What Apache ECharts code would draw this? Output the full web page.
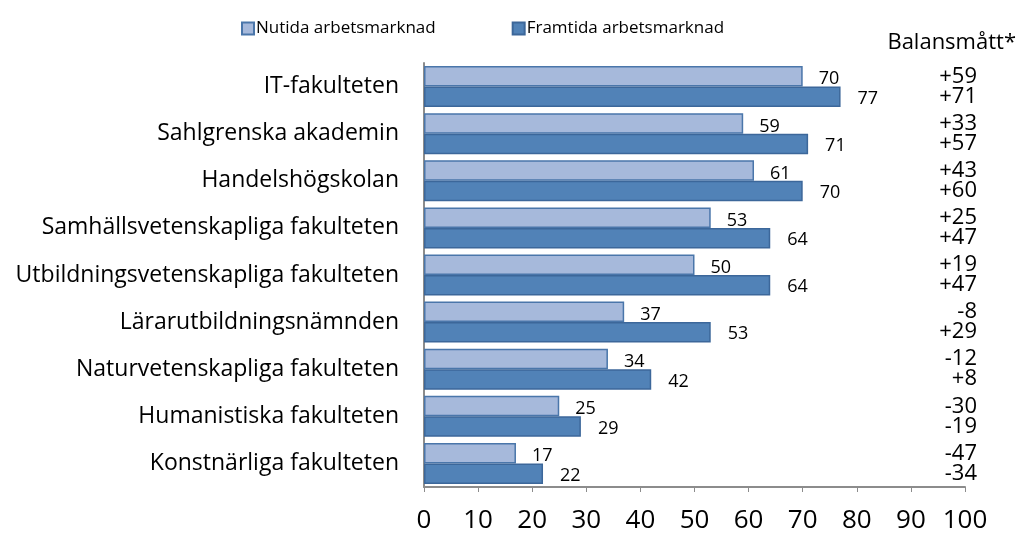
<!DOCTYPE html>
<html style="height: 100%">
<head>
    <meta charset="utf-8">
    <title>Arbetsmarknad per fakultet</title>
    <script src="https://cdn.jsdelivr.net/npm/echarts@6/dist/echarts.min.js"></script>
</head>
<body style="height: 100%; margin: 0; background: #fff">
    <div id="container" style="width: 1023px; height: 534px"></div>
    <script type="text/javascript">
        var fakulteter = ['IT-fakulteten', 'Sahlgrenska akademin', 'Handelshögskolan',
            'Samhällsvetenskapliga fakulteten', 'Utbildningsvetenskapliga fakulteten',
            'Lärarutbildningsnämnden', 'Naturvetenskapliga fakulteten',
            'Humanistiska fakulteten', 'Konstnärliga fakulteten'];
        var nutida = [70, 59, 61, 53, 50, 37, 34, 25, 17];
        var framtida = [77, 71, 70, 64, 64, 53, 42, 29, 22];
        var balansNutida = ['+59', '+33', '+43', '+25', '+19', '-8', '-12', '-30', '-47'];
        var balansFramtida = ['+71', '+57', '+60', '+47', '+47', '+29', '+8', '-19', '-34'];
        var xTicks = [0, 10, 20, 30, 40, 50, 60, 70, 80, 90, 100];

        var font = 'Open Sans';
        var chart = echarts.init(document.getElementById('container'));

        var option = {
            animation: false,
            textStyle: { fontFamily: font, color: '#000' },
            title: {
                text: 'Balansmått*',
                right: 2, top: 27,
                textStyle: { fontFamily: font, fontSize: 22, fontWeight: 'normal', color: '#000' }
            },
            legend: {
                top: 15, left: 236,
                itemWidth: 12, itemHeight: 12, itemGap: 76,
                icon: 'rect',
                textStyle: { fontFamily: font, fontSize: 17, color: '#000', padding: [0, 0, 0, -3] },
                data: ['Nutida arbetsmarknad', 'Framtida arbetsmarknad']
            },
            grid: { left: 424, right: 58, top: 63, bottom: 46 },
            xAxis: {
                type: 'value', min: xTicks[0], max: xTicks[xTicks.length - 1], interval: 10,
                axisLine: { show: true, lineStyle: { color: '#8c8c8c', width: 2 } },
                axisTick: { show: true, length: 5, lineStyle: { color: '#8c8c8c' } },
                splitLine: { show: false },
                axisLabel: { margin: 21, fontSize: 26, color: '#000', fontFamily: font }
            },
            yAxis: [{
                type: 'category', inverse: true, data: fakulteter,
                axisLine: { show: true, lineStyle: { color: '#8c8c8c', width: 2 } },
                axisTick: { show: false },
                axisLabel: { margin: 25, fontSize: 23, color: '#000', fontFamily: font }
            }, {
                type: 'category', inverse: true, position: 'right',
                data: balansNutida.map(function (b, i) { return b + '\n' + balansFramtida[i]; }),
                axisLine: { show: false }, axisTick: { show: false },
                axisLabel: { inside: true, margin: -12, fontSize: 22, lineHeight: 20, color: '#000', fontFamily: font }
            }],
            series: [{
                name: 'Nutida arbetsmarknad', type: 'bar', data: nutida,
                barGap: '0%', barCategoryGap: '13%',
                itemStyle: { color: '#a6b9db', borderColor: '#4a76aa', borderWidth: 1.5 },
                label: { show: true, position: 'right', distance: 16, offset: [0, 3], fontSize: 18, color: '#000', fontFamily: font }
            }, {
                name: 'Framtida arbetsmarknad', type: 'bar', data: framtida,
                itemStyle: { color: '#5182b7', borderColor: '#3c679a', borderWidth: 1.5 },
                label: { show: true, position: 'right', distance: 17, offset: [0, 2], fontSize: 18, color: '#000', fontFamily: font }
            }]
        };
        chart.setOption(option);
    </script>
</body>
</html>
